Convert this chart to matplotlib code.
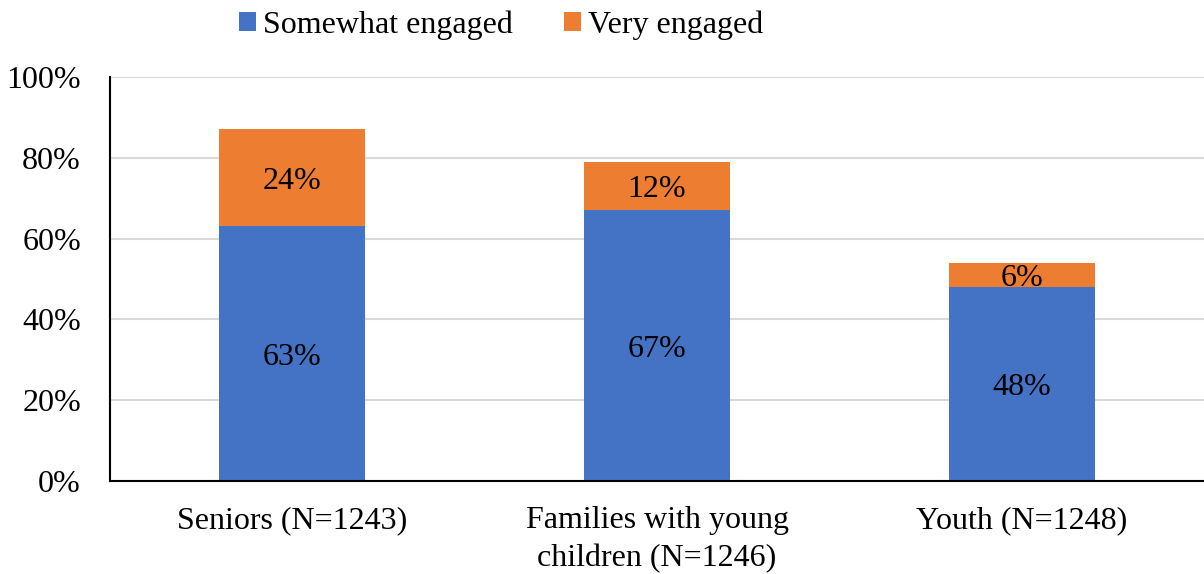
import matplotlib.pyplot as plt
from matplotlib.ticker import PercentFormatter

categories = ['Seniors (N=1243)', 'Families with young\nchildren (N=1246)', 'Youth (N=1248)']
somewhat = [63, 67, 48]
very = [24, 12, 6]

plt.rcParams['font.family'] = 'Liberation Serif'
fs = 23

fig = plt.figure(figsize=(12.04, 5.74), dpi=100)
ax = fig.add_axes([0.0914, 0.162, 0.9086, 0.704])

x = range(len(categories))
b1 = ax.bar(x, somewhat, width=0.4, color='#4472C4', label='Somewhat engaged', zorder=2)
b2 = ax.bar(x, very, width=0.4, bottom=somewhat, color='#ED7D31', label='Very engaged', zorder=2)

for i in x:
    ax.text(i, somewhat[i] / 2, f'{somewhat[i]}%', ha='center', va='center_baseline', fontsize=fs)
    ax.text(i, somewhat[i] + very[i] / 2, f'{very[i]}%', ha='center', va='center_baseline', fontsize=fs)

ax.set_xlim(-0.5, 2.5)
ax.set_ylim(0, 100)
ax.set_yticks(range(0, 101, 20))
ax.yaxis.set_major_formatter(PercentFormatter(decimals=0))
ax.set_xticks(list(x))
ax.set_xticklabels(categories, fontsize=fs, linespacing=1.4)
ax.tick_params(axis='y', labelsize=fs, length=0, pad=21)
ax.tick_params(axis='x', length=0, pad=18)
ax.grid(axis='y', color='#d9d9d9', linewidth=1.5, zorder=0)
for s in ['top', 'right']:
    ax.spines[s].set_visible(False)
ax.spines['left'].set_linewidth(1.5)
ax.spines['bottom'].set_linewidth(1.5)

fig.legend(handles=[b1, b2], loc='upper center', bbox_to_anchor=(0.416, 1.032), ncol=2,
           frameon=False, fontsize=fs, handlelength=0.55, handleheight=0.55,
           handletextpad=0.2, columnspacing=1.6)

fig.savefig('out.png', dpi=100)
